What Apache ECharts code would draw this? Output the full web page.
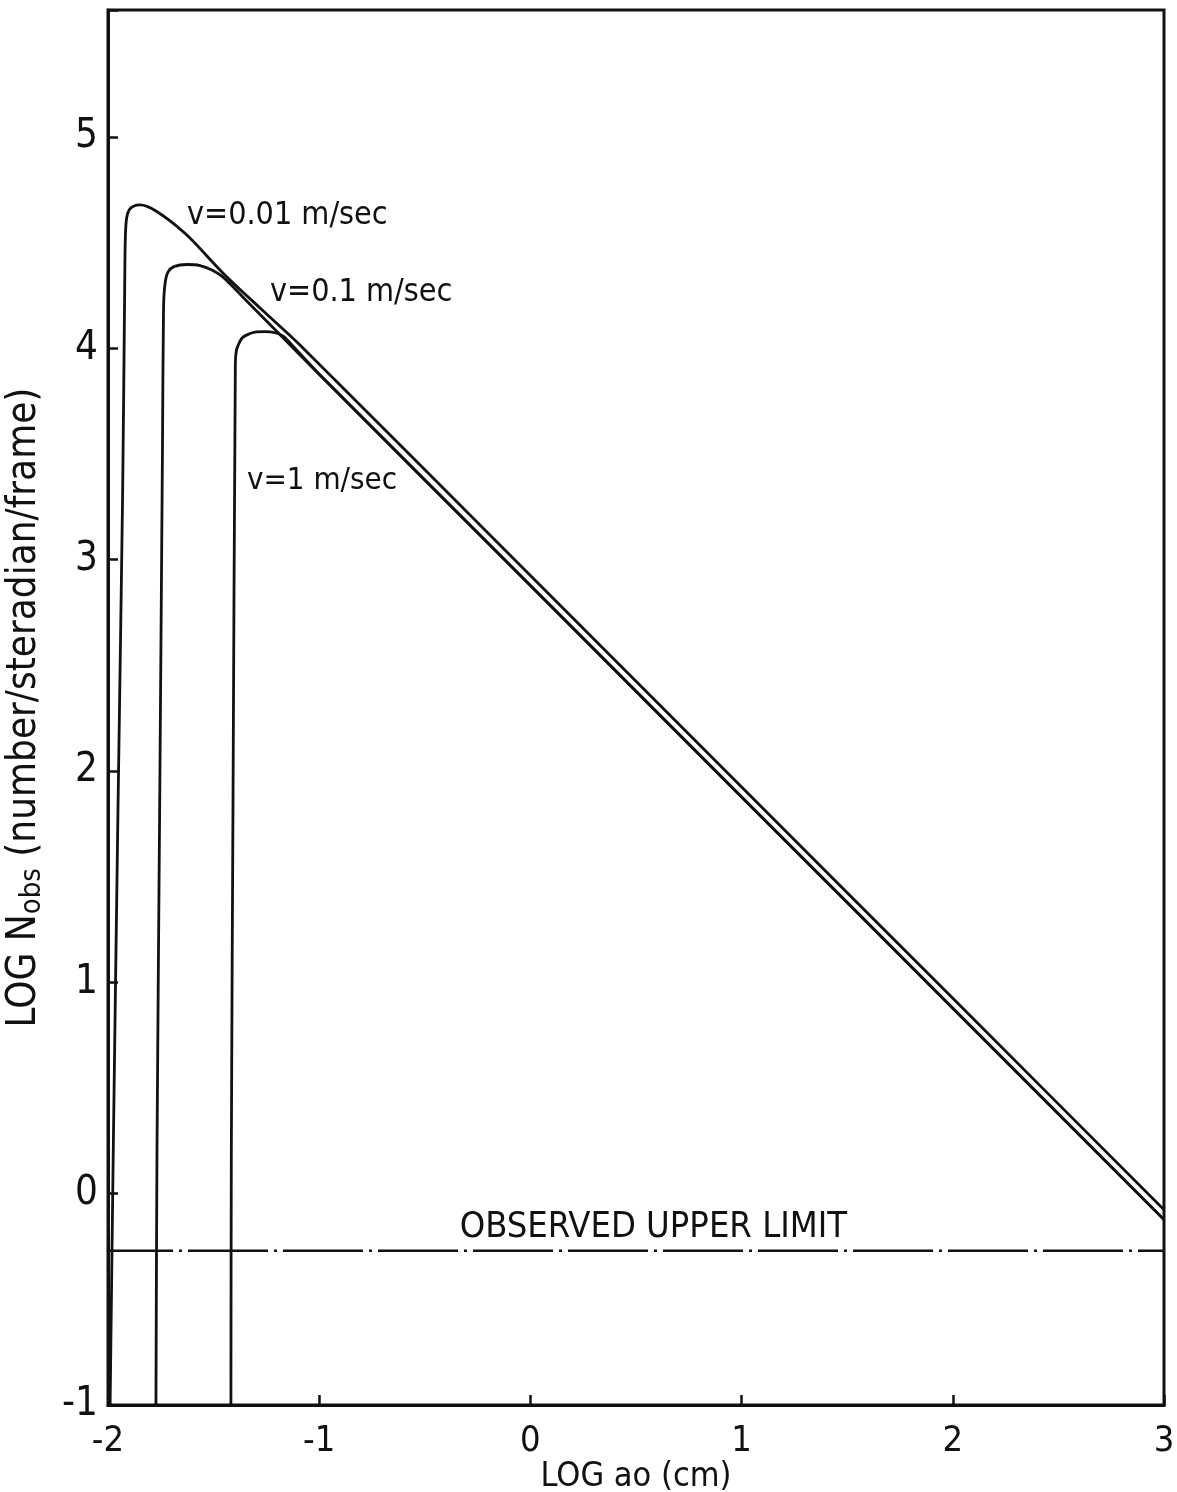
<!DOCTYPE html>
<html><head><meta charset="utf-8">
<script src="https://cdn.jsdelivr.net/npm/echarts@6/dist/echarts.min.js"></script>
<style>html,body{margin:0;padding:0;background:#fff}#c{width:1177px;height:1492px}</style>
</head><body><div id="c"></div>
<script>
const FONT = "'Liberation Sans Narrow','DejaVu Sans Condensed','Arial Narrow',sans-serif";

// axis ticks
const xTickValues = [-2, -1, 0, 1, 2, 3];
const yTickValues = [-1, 0, 1, 2, 3, 4, 5];

// curve v = 0.01 m/sec  [LOG ao, LOG Nobs]
const curveV001 = [
  [-1.990, -1.0], [-1.975, 0.21], [-1.952, 1.87], [-1.931, 3.29], [-1.921, 4.28],
  [-1.918, 4.52], [-1.912, 4.615], [-1.900, 4.654], [-1.877, 4.673], [-1.848, 4.678],
  [-1.815, 4.671], [-1.773, 4.649], [-1.706, 4.602], [-1.612, 4.521], [-1.455, 4.355],
  [-1.280, 4.190], [-1.091, 4.015], [0, 2.924], [1, 1.924], [2, 0.924], [3, -0.076]
];
// curve v = 0.1 m/sec
const curveV01 = [
  [-1.773, -1.0], [-1.768, 0.21], [-1.755, 1.87], [-1.742, 3.53], [-1.737, 4.19],
  [-1.730, 4.305], [-1.716, 4.36], [-1.688, 4.386], [-1.626, 4.396], [-1.564, 4.391],
  [-1.508, 4.370], [-1.455, 4.336], [-1.328, 4.208], [-1.091, 3.968],
  [0, 2.877], [1, 1.877], [2, 0.877], [3, -0.123]
];
// curve v = 1 m/sec
const curveV1 = [
  [-1.418, -1.0], [-1.416, 0.21], [-1.408, 1.87], [-1.397, 3.93], [-1.392, 3.99],
  [-1.383, 4.016], [-1.366, 4.047], [-1.342, 4.063], [-1.304, 4.076], [-1.257, 4.078],
  [-1.209, 4.073], [-1.171, 4.057], [-1.138, 4.025], [-1.0, 3.877],
  [0, 2.877], [1, 1.877], [2, 0.877], [3, -0.123]
];
// observed upper limit
const upperLimitValue = -0.27;
const upperLimitX = [-2, 3];

// annotations
const annotationTexts = ['v=0.01 m/sec', 'v=0.1 m/sec', 'v=1 m/sec', 'OBSERVED UPPER LIMIT'];
const annotationPos = [[-1.626, 4.625], [-1.233, 4.262], [-1.342, 3.37], [-0.335, -0.16]];
const annotationSizes = [32, 32, 31, 36];

const chart = echarts.init(document.getElementById('c'), null, {renderer: 'canvas'});

const curveStyle = {color: '#111', width: 2.8};
function curveSeries(name, data) {
  return {
    name, type: 'line', data, showSymbol: false, symbol: 'none',
    smooth: 0.3, lineStyle: curveStyle, z: 3, silent: true
  };
}

const option = {
  animation: false,
  backgroundColor: '#fff',
  textStyle: {fontFamily: FONT, color: '#111'},
  grid: {left: 108, right: 13, top: 10, bottom: 87, show: true, borderColor: '#111', borderWidth: 3,
    containLabel: false, outerBoundsMode: 'none'},
  xAxis: {
    type: 'value', min: xTickValues[0], max: xTickValues[xTickValues.length - 1], interval: 1,
    name: 'LOG ao (cm)', nameLocation: 'middle', nameGap: 55, nameMoveOverlap: false,
    nameTextStyle: {fontFamily: FONT, fontSize: 34, color: '#111'},
    axisLine: {show: true, onZero: false, lineStyle: {color: '#111', width: 3}},
    axisTick: {show: true, inside: true, length: 10, lineStyle: {color: '#111', width: 2.5}},
    axisLabel: {fontFamily: FONT, fontSize: 36, color: '#111', margin: 19},
    splitLine: {show: false}
  },
  yAxis: {
    type: 'value', min: yTickValues[0], max: 5.6, interval: 1,
    name: 'LOG N{sub|obs} (number/steradian/frame)', nameLocation: 'middle', nameGap: 61, nameMoveOverlap: false,
    nameTextStyle: {fontFamily: FONT, fontSize: 40, color: '#111',
      rich: {sub: {fontFamily: FONT, fontSize: 29, color: '#111', verticalAlign: 'bottom', padding: [16, 0, 0, 0]}}},
    axisLine: {show: true, onZero: false, lineStyle: {color: '#111', width: 3}},
    axisTick: {show: true, inside: true, length: 10, lineStyle: {color: '#111', width: 2.5}},
    axisLabel: {fontFamily: FONT, fontSize: 40, color: '#111', margin: 10,
      formatter: v => (Number.isInteger(v) ? String(v) : '')},
    splitLine: {show: false}
  },
  series: [
    curveSeries('v=0.01 m/sec', curveV001),
    curveSeries('v=0.1 m/sec', curveV01),
    curveSeries('v=1 m/sec', curveV1),
    {
      name: 'OBSERVED UPPER LIMIT', type: 'line', symbol: 'none', silent: true,
      data: upperLimitX.map(x => [x, upperLimitValue]),
      lineStyle: {color: '#111', width: 2.6, type: [80, 6, 3, 6], dashOffset: 15}, z: 2
    },
    {
      name: 'annotations', type: 'scatter', symbolSize: 0, silent: true,
      itemStyle: {color: '#111', opacity: 1},
      data: annotationPos.map((p, i) => ({
        value: p, name: annotationTexts[i],
        label: {fontSize: annotationSizes[i]}
      })),
      label: {show: true, position: [0, 0], align: 'left', verticalAlign: 'middle',
        formatter: p => p.name, fontFamily: FONT, color: '#111', opacity: 1}
    }
  ]
};
chart.setOption(option);
</script></body></html>
